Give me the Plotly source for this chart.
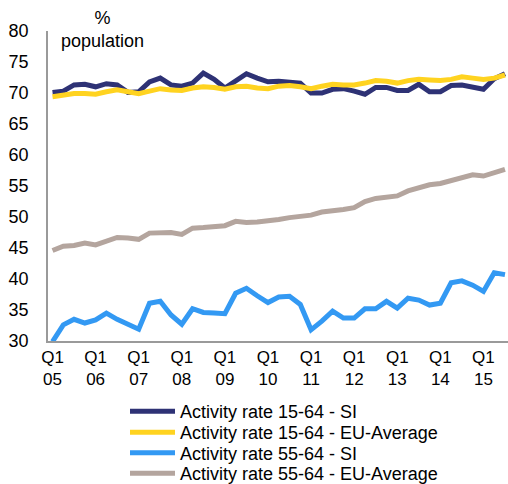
import plotly.graph_objects as go

# Quarterly observations, Q1 2005 .. Q3 2015
quarters = [f"Q{q} {y:02d}" for y in range(5, 16) for q in range(1, 5)][:43]

si_15_64 = [70.1, 70.3, 71.3, 71.4, 71.0, 71.5, 71.3, 70.1, 70.2, 71.8, 72.4, 71.3,
            71.1, 71.6, 73.2, 72.2, 70.8, 72.0, 73.1, 72.4, 71.8, 71.9, 71.8, 71.6,
            70.0, 70.0, 70.6, 70.7, 70.3, 69.8, 70.9, 70.9, 70.4, 70.4, 71.4, 70.2,
            70.2, 71.2, 71.3, 71.0, 70.6, 72.3, 73.1]
eu_15_64 = [69.4, 69.7, 69.9, 69.9, 69.8, 70.2, 70.5, 70.2, 69.9, 70.3, 70.7, 70.5,
            70.4, 70.8, 71.0, 70.9, 70.6, 71.0, 71.1, 70.8, 70.7, 71.1, 71.2, 71.0,
            70.7, 71.1, 71.4, 71.3, 71.3, 71.6, 72.0, 71.9, 71.6, 72.0, 72.2, 72.1,
            72.0, 72.2, 72.6, 72.4, 72.2, 72.4, 72.9]
si_55_64 = [29.9, 32.6, 33.5, 32.9, 33.4, 34.5, 33.5, 32.7, 31.9, 36.1, 36.4, 34.2,
            32.7, 35.2, 34.6, 34.5, 34.4, 37.7, 38.5, 37.3, 36.2, 37.1, 37.2, 35.9,
            31.8, 33.2, 34.8, 33.7, 33.7, 35.2, 35.2, 36.4, 35.3, 36.9, 36.6, 35.8,
            36.1, 39.4, 39.7, 39.0, 38.0, 41.0, 40.7]
eu_55_64 = [44.6, 45.3, 45.4, 45.8, 45.5, 46.1, 46.7, 46.6, 46.4, 47.4, 47.5, 47.5,
            47.2, 48.2, 48.3, 48.4, 48.6, 49.3, 49.1, 49.2, 49.3, 49.6, 49.9, 50.0,
            50.3, 50.8, 50.9, 51.2, 51.5, 52.5, 53.0, 53.3, 53.4, 54.2, 54.8, 55.2,
            55.4, 55.9, 56.4, 56.8, 56.6, 57.2, 57.7]

tick_pos = list(range(0, 43, 4))
tick_text = [f"Q1<br>{y:02d}" for y in range(5, 16)]

series = [
    ("Activity rate 15-64 - SI", si_15_64, "#2E3275"),
    ("Activity rate 15-64 - EU-Average", eu_15_64, "#FFD320"),
    ("Activity rate 55-64 - SI", si_55_64, "#3399F3"),
    ("Activity rate 55-64 - EU-Average", eu_55_64, "#B4A59E"),
]

FONT = "Arial, Liberation Sans, sans-serif"
W, H = 508, 484
x = list(range(len(quarters)))

fig = go.Figure()
legend_ids = ["legend", "legend2", "legend3", "legend4"]
for (name, vals, color), lg in zip(series, legend_ids):
    fig.add_trace(go.Scatter(
        x=x, y=vals, name=name, mode="lines",
        line=dict(color=color, width=5),
        legend=lg, showlegend=True, hoverinfo="skip",
    ))

# one legend box per row so the rows sit tightly stacked
layout_legends = {}
row_y = [411.5, 432.5, 453, 473.5]
for lg, py in zip(legend_ids, row_y):
    layout_legends[lg] = dict(
        xref="container", yref="container",
        x=125 / W, xanchor="left",
        y=1 - py / H, yanchor="middle",
        font=dict(family=FONT, size=18, color="#000000"),
        bgcolor="rgba(0,0,0,0)", borderwidth=0,
        itemwidth=45,
    )

fig.update_layout(
    width=W, height=H,
    showlegend=True,
    margin=dict(l=48, r=0, t=31, b=143, autoexpand=False),
    paper_bgcolor="white", plot_bgcolor="white",
    font=dict(family=FONT, size=17, color="#000000"),
    xaxis=dict(
        range=[-0.42, 42.28], tickvals=tick_pos, ticktext=tick_text,
        showgrid=False, zeroline=False, showline=True,
        linecolor="#9A9A9A", linewidth=1.5, ticks="",
        tickfont=dict(family=FONT, size=17),
    ),
    yaxis=dict(
        range=[30, 80], dtick=5, showgrid=False, zeroline=False,
        showline=True, linecolor="#9A9A9A", linewidth=1.5, ticks="",
        ticklabelstandoff=14,
        tickfont=dict(family=FONT, size=18),
    ),
    annotations=[dict(
        text="%<br>population", xref="paper", yref="paper",
        x=(102 - 48) / 460, y=(341 - 6) / 310, xanchor="center", yanchor="top",
        showarrow=False, font=dict(family=FONT, size=18), align="center",
    )],
    **layout_legends,
)

fig.write_html("out.html")
